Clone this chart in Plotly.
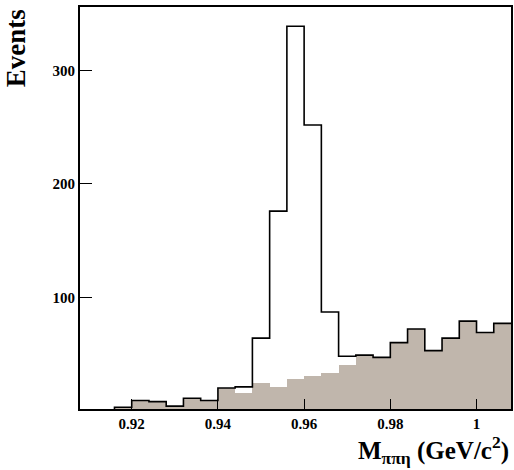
import plotly.graph_objects as go

# bin edges: 0.908 .. 1.008, width 0.004
bin_width = 0.004
bin_lo = [round(0.908 + i * bin_width, 3) for i in range(25)]
total = [0, 0, 3, 9, 8, 4, 11, 9, 20, 21, 64, 176, 339, 252, 87, 48, 49, 47, 60, 72, 53, 64, 79, 69, 77]
background = [0, 0, 3, 9, 8, 4, 11, 9, 20, 16, 24, 21, 28, 31, 33, 40, 48, 47, 60, 72, 53, 64, 79, 69, 77]
x_ticks = [0.92, 0.94, 0.96, 0.98, 1.0]
x_tick_labels = ["0.92", "0.94", "0.96", "0.98", "1"]
y_ticks = [100, 200, 300]

centers = [lo + bin_width / 2 for lo in bin_lo]
edges = bin_lo + [round(bin_lo[-1] + bin_width, 3)]

fig = go.Figure()
fig.add_trace(go.Bar(
    x=centers, y=background, width=bin_width,
    marker=dict(color="#c0b6ac", line=dict(width=0)),
    showlegend=False, hoverinfo="skip",
))
fig.add_trace(go.Scatter(
    x=edges, y=total + [total[-1]], mode="lines",
    line=dict(shape="hv", color="black", width=1.6),
    showlegend=False, hoverinfo="skip",
))

font_tick = dict(family="Liberation Serif", size=15, color="black", weight="bold")
fig.update_layout(
    width=514, height=470,
    margin=dict(l=80, r=1, t=7, b=61),
    paper_bgcolor="white", plot_bgcolor="white",
    bargap=0,
    xaxis=dict(
        range=[0.908, 1.008], tickvals=x_ticks, ticktext=x_tick_labels,
        ticks="inside", ticklen=10, tickwidth=1.2, tickcolor="black",
        showline=True, linecolor="black", linewidth=2, mirror=True,
        showgrid=False, zeroline=False,
        tickfont=font_tick,
    ),
    yaxis=dict(
        range=[1.5, 356], tickvals=y_ticks,
        ticks="inside", ticklen=12, tickwidth=1.2, tickcolor="black",
        showline=True, linecolor="black", linewidth=2, mirror=True,
        showgrid=False, zeroline=False,
        tickfont=font_tick,
    ),
    annotations=[
        dict(text="<b>M<sub>ππη</sub> (GeV/c<sup>2</sup>)</b>", xref="paper", yref="paper",
             x=1.0, y=-0.052, xanchor="right", yanchor="top", showarrow=False,
             font=dict(family="Liberation Serif", size=25, color="black")),
        dict(text="<b>Events</b>", xref="paper", yref="paper",
             x=-0.148, y=1.0, xanchor="center", yanchor="top", textangle=-90,
             showarrow=False,
             font=dict(family="Liberation Serif", size=27, color="black")),
    ],
)
fig.write_html("out.html", config={"displayModeBar": False},
               post_script="document.body.style.margin='0';document.body.style.overflow='hidden';")
